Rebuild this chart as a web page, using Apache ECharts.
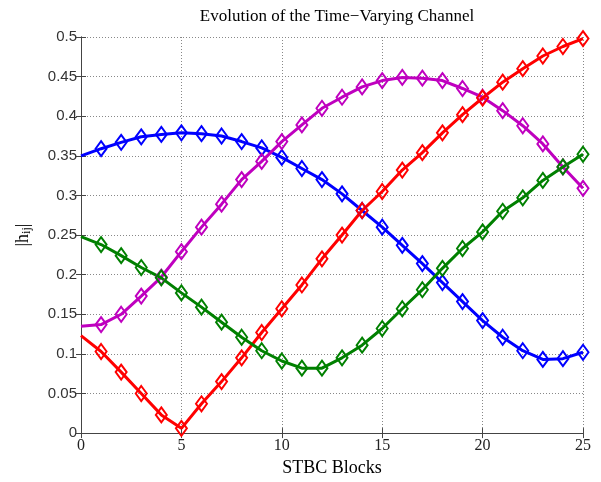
<!DOCTYPE html>
<html><head><meta charset="utf-8">
<script src="https://cdn.jsdelivr.net/npm/echarts@6/dist/echarts.min.js"></script>
<style>html,body{margin:0;padding:0;background:#fff}#c{width:601px;height:482px}</style>
</head><body><div id="c"></div>
<script>
const blocks = [0,1,2,3,4,5,6,7,8,9,10,11,12,13,14,15,16,17,18,19,20,21,22,23,24,25];
const blueVals = [0.350,0.359,0.367,0.374,0.377,0.379,0.378,0.375,0.368,0.360,0.348,0.334,0.320,0.302,0.281,0.260,0.237,0.214,0.190,0.166,0.142,0.121,0.104,0.093,0.094,0.102];
const magentaVals = [0.135,0.137,0.150,0.173,0.197,0.229,0.260,0.289,0.320,0.343,0.368,0.389,0.410,0.424,0.437,0.445,0.449,0.448,0.445,0.435,0.424,0.407,0.388,0.365,0.336,0.309];
const redVals = [0.123,0.103,0.077,0.050,0.023,0.006,0.037,0.065,0.095,0.127,0.157,0.187,0.220,0.250,0.281,0.305,0.332,0.354,0.379,0.402,0.423,0.443,0.460,0.476,0.488,0.498];
const greenVals = [0.248,0.238,0.224,0.209,0.196,0.177,0.159,0.140,0.121,0.104,0.091,0.082,0.082,0.095,0.111,0.132,0.157,0.181,0.208,0.233,0.254,0.280,0.297,0.319,0.336,0.352];
const xTicks = [0,5,10,15,20,25];
const yTicks = [0,0.05,0.1,0.15,0.2,0.25,0.3,0.35,0.4,0.45,0.5];

const serif = '"Liberation Serif","DejaVu Serif",serif';
const sans = '"Liberation Sans",Arial,sans-serif';
function mk(name, vals, color){
  return {
    name, type:'line', data: blocks.map((x,i)=>[x, vals[i]]),
    symbol:(v)=> v[0]===0 ? 'none' : 'diamond', symbolSize:[11,15], showAllSymbol:true,
    lineStyle:{color, width:3},
    itemStyle:{color:'transparent', borderColor:color, borderWidth:2},
    emphasis:{disabled:true}, animation:false, clip:false, z:3
  };
}
const chart = echarts.init(document.getElementById('c'), null, {renderer:'canvas'});
const axisLine = {show:true, lineStyle:{color:'#444', width:1}};
chart.setOption({
  animation:false,
  title:{text:'Evolution of the Time\u2212Varying Channel', left:332, top:3, textAlign:'center',
    textStyle:{fontFamily:serif, fontSize:17, fontWeight:'normal', color:'#000'}},
  grid:{left:81, right:18, top:37, bottom:40, containLabel:false},
  xAxis:[{type:'value', min:0, max:25, interval:5,
    name:'STBC Blocks', nameLocation:'middle', nameGap:22,
    nameTextStyle:{fontFamily:serif, fontSize:18, color:'#000'},
    axisLine, axisTick:{show:true, inside:true, length:5, lineStyle:{color:'#444'}},
    axisLabel:{fontFamily:serif, fontSize:16, color:'#222', margin:5},
    splitLine:{show:true, lineStyle:{color:'#888', type:[1,2], width:1}}},
   {type:'value', position:'top', min:0, max:25, interval:5,
    axisLine, axisTick:{show:true, inside:true, length:5, lineStyle:{color:'#444'}},
    axisLabel:{show:false}, splitLine:{show:false}}],
  yAxis:[{type:'value', min:0, max:0.5, interval:0.05,
    name:'{a||h}{b|ij}{a||}', nameLocation:'middle', nameGap:48, nameRotate:90,
    nameTextStyle:{fontFamily:serif, fontSize:18, color:'#000',
      rich:{a:{fontFamily:serif, fontSize:18, color:'#000'},
            b:{fontFamily:serif, fontSize:12, color:'#000', padding:[8,0,0,0]}}},
    axisLine, axisTick:{show:true, inside:true, length:5, lineStyle:{color:'#444'}},
    axisLabel:{fontFamily:sans, fontSize:15, color:'#333', margin:4,
      formatter:v=>String(Math.round(v*100)/100)},
    splitLine:{show:true, lineStyle:{color:'#888', type:[1,2], width:1}}},
   {type:'value', position:'right', min:0, max:0.5, interval:0.05,
    axisLine, axisTick:{show:true, inside:true, length:5, lineStyle:{color:'#444'}},
    axisLabel:{show:false}, splitLine:{show:false}}],
  series:[
    mk('blue', blueVals, '#0000ff'),
    mk('magenta', magentaVals, '#bf00bf'),
    mk('red', redVals, '#ff0000'),
    mk('green', greenVals, '#008000')
  ]
});
</script></body></html>
